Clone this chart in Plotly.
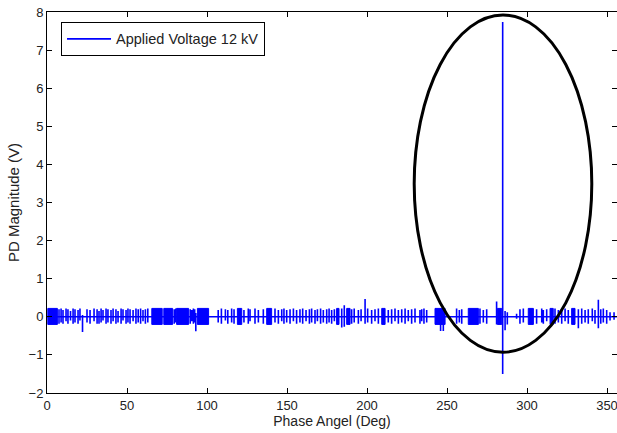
import plotly.graph_objects as go

# ---- data ----
pulse_phase = [7.5, 8.8, 10.0, 11.9, 13.1, 14.7, 16.3, 17.5, 19.4, 20.6, 22.2, 25.0, 26.9, 29.4, 31.3,
               32.5, 33.8, 35.0, 36.9, 38.1, 40.0, 41.3, 43.1, 44.4, 46.3, 47.5, 49.4, 50.6, 51.9, 53.8,
               55.6, 57.0, 58.5, 60.0, 61.5, 63.0, 79.5, 80.5, 89.5, 90.5, 91.5, 92.3, 93.0, 107.0, 109.0,
               111.5, 113.0, 115.4, 116.9, 123.1, 125.8, 126.9, 130.0, 132.1, 135.2, 142.5, 144.6, 146.7,
               148.1, 149.8, 151.9, 154.0, 156.0, 158.1, 159.8, 161.9, 164.0, 165.4, 167.5, 169.0, 171.0,
               172.7, 174.8, 176.3, 177.9, 179.6, 184.2, 185.8, 190.4, 192.0, 194.6, 196.3, 198.8, 200.4,
               202.9, 205.0, 207.1, 213.3, 215.4, 217.5, 219.6, 221.7, 223.8, 225.8, 227.9, 230.0, 233.1,
               234.2, 235.6, 237.3, 246.0, 247.7, 256.0, 257.7, 259.2, 270.6, 272.7, 274.8, 281.0, 284.8,
               286.3, 287.7, 293.5, 295.6, 297.7, 306.0, 309.2, 310.2, 312.3, 317.5, 319.6, 321.7, 323.8,
               325.8, 332.1, 334.2, 336.3, 338.3, 340.8, 342.5, 344.6, 346.1, 347.7, 349.8, 351.9, 354.4]
pulse_pos = [0.20, 0.22, 0.18, 0.22, 0.20, 0.15, 0.22, 0.20, 0.18, 0.22, 0.05, 0.20, 0.18, 0.22, 0.20,
             0.15, 0.22, 0.18, 0.22, 0.20, 0.18, 0.22, 0.20, 0.15, 0.22, 0.20, 0.18, 0.22, 0.20, 0.18,
             0.22, 0.20, 0.22, 0.18, 0.20, 0.22, 0.20, 0.22, 0.20, 0.18, 0.22, 0.20, 0.10, 0.18, 0.22,
             0.20, 0.18, 0.22, 0.20, 0.18, 0.22, 0.20, 0.22, 0.18, 0.20, 0.22, 0.18, 0.20,
             0.22, 0.18, 0.20, 0.22, 0.18, 0.20, 0.22, 0.18, 0.20, 0.22, 0.18, 0.20, 0.22,
             0.18, 0.20, 0.22, 0.18, 0.20, 0.22, 0.30, 0.20, 0.22, 0.18, 0.20, 0.47, 0.22,
             0.18, 0.20, 0.22, 0.18, 0.20, 0.22, 0.18, 0.20, 0.22, 0.18, 0.20, 0.22, 0.18,
             0.20, 0.22, 0.18, 0.20, 0.20, 0.22, 0.18, 0.20, 0.22, 0.18, 0.20, 0.40, 7.74,
             0.15, 0.12, 0.08, 0.20, 0.22, 0.20, 0.22, 0.18, 0.20, 0.22, 0.18, 0.20, 0.22,
             0.18, 0.20, 0.22, 0.18, 0.20, 0.22, 0.18, 0.45, 0.20, 0.22, 0.18, 0.12, 0.12]
pulse_neg = [-0.18, -0.15, -0.18, -0.12, -0.18, -0.10, -0.18, -0.15, -0.18, -0.10, -0.40, -0.15, -0.18, -0.12, -0.18,
             -0.18, -0.15, -0.10, -0.18, -0.15, -0.18, -0.12, -0.18, -0.15, -0.18, -0.10, -0.18, -0.15, -0.18, -0.12,
             -0.18, -0.15, -0.18, -0.12, -0.18, -0.15, -0.18, -0.15, -0.18, -0.12, -0.18, -0.15, -0.38, -0.15, -0.18,
             -0.10, -0.18, -0.15, -0.18, -0.15, -0.18, -0.12, -0.18, -0.15, -0.18, -0.15, -0.18, -0.12,
             -0.18, -0.15, -0.18, -0.12, -0.18, -0.15, -0.18, -0.12, -0.18, -0.15, -0.18, -0.12, -0.18,
             -0.15, -0.18, -0.15, -0.18, -0.12, -0.28, -0.26, -0.18, -0.15, -0.18, -0.12, -0.18, -0.15,
             -0.18, -0.12, -0.18, -0.15, -0.18, -0.12, -0.18, -0.15, -0.18, -0.12, -0.18, -0.15, -0.18,
             -0.12, -0.18, -0.15, -0.37, -0.37, -0.18, -0.15, -0.18, -0.18, -0.15, -0.18, -0.20, -1.50,
             -0.35, -0.20, -0.05, -0.18, -0.15, -0.18, -0.15, -0.18, -0.12, -0.18, -0.15, -0.18, -0.12,
             -0.18, -0.30, -0.18, -0.15, -0.18, -0.12, -0.18, -0.30, -0.18, -0.15, -0.18, -0.10, -0.08]

block_start = [0.5, 65.5, 73.0, 81.0, 94.0, 119.0, 137.3, 181.0, 187.3, 209.2, 242.5, 263.3, 281.5, 300.8, 314.4, 327.9]
block_end = [6.5, 72.0, 78.5, 88.5, 101.0, 121.7, 140.4, 182.5, 189.4, 211.3, 248.8, 269.6, 284.2, 304.0, 316.4, 330.0]
block_top = [0.22, 0.22, 0.22, 0.22, 0.22, 0.22, 0.22, 0.22, 0.22, 0.22, 0.22, 0.22, 0.22, 0.22, 0.22, 0.22]
block_bottom = [-0.20, -0.20, -0.20, -0.20, -0.20, -0.20, -0.20, -0.20, -0.20, -0.20, -0.20, -0.20, -0.20, -0.20, -0.20, -0.20]

phase_min, phase_max = 0.0, 360.0

# highlighted region (ellipse) in data units
ellipse_x0, ellipse_x1 = 229.5, 340.5
ellipse_y0, ellipse_y1 = -0.93, 7.92

series_name = "Applied Voltage 12 kV"
x_title = "Phase Angel (Deg)"
y_title = "PD Magnitude (V)"

# ---- build traces ----
xs = [phase_min]
ys = [0.0]
for p, hi, lo in sorted(zip(pulse_phase, pulse_pos, pulse_neg)):
    xs += [p, p, p, p]
    ys += [0.0, hi, lo, 0.0]
xs.append(phase_max)
ys.append(0.0)

bx, by = [], []
for s, e, t, b in zip(block_start, block_end, block_top, block_bottom):
    bx += [s, e, e, s, s, None]
    by += [b, b, t, t, b, None]

BLUE = "rgb(0,0,255)"
fig = go.Figure()
fig.add_trace(go.Scatter(x=bx, y=by, mode="lines", fill="toself", fillcolor=BLUE,
                         line=dict(color=BLUE, width=1), showlegend=False, hoverinfo="skip"))
fig.add_trace(go.Scatter(x=xs, y=ys, mode="lines", name=series_name,
                         line=dict(color=BLUE, width=1.6)))

fig.add_shape(type="circle", xref="x", yref="y",
              x0=ellipse_x0, x1=ellipse_x1, y0=ellipse_y0, y1=ellipse_y1,
              line=dict(color="black", width=3))

FONT = "Liberation Sans, Arial, sans-serif"
axis_common = dict(showline=True, linecolor="black", linewidth=1, mirror="ticks",
                   ticks="inside", ticklen=5, tickcolor="black", showgrid=False, zeroline=False,
                   ticklabeloverflow="allow",
                   tickfont=dict(family=FONT, size=13, color="#222"))

fig.update_layout(
    width=617, height=433,
    margin=dict(l=47, r=0, t=12, b=40),
    paper_bgcolor="white", plot_bgcolor="white",
    font=dict(family=FONT, size=13, color="#222"),
    xaxis=dict(range=[0, 356.25], tick0=0, dtick=50,
               title=dict(text=x_title, standoff=4, font=dict(family=FONT, size=14, color="#222")),
               **axis_common),
    yaxis=dict(range=[-2, 8], tick0=0, dtick=1,
               title=dict(text=y_title, standoff=5, font=dict(family=FONT, size=15, color="#222")),
               **axis_common),
    legend=dict(x=0.0246, y=0.974, xanchor="left", yanchor="top",
                bordercolor="black", borderwidth=1, bgcolor="white",
                font=dict(family=FONT, size=14.5, color="#222"), itemwidth=44),
    showlegend=True,
)

fig.write_html("out.html")
